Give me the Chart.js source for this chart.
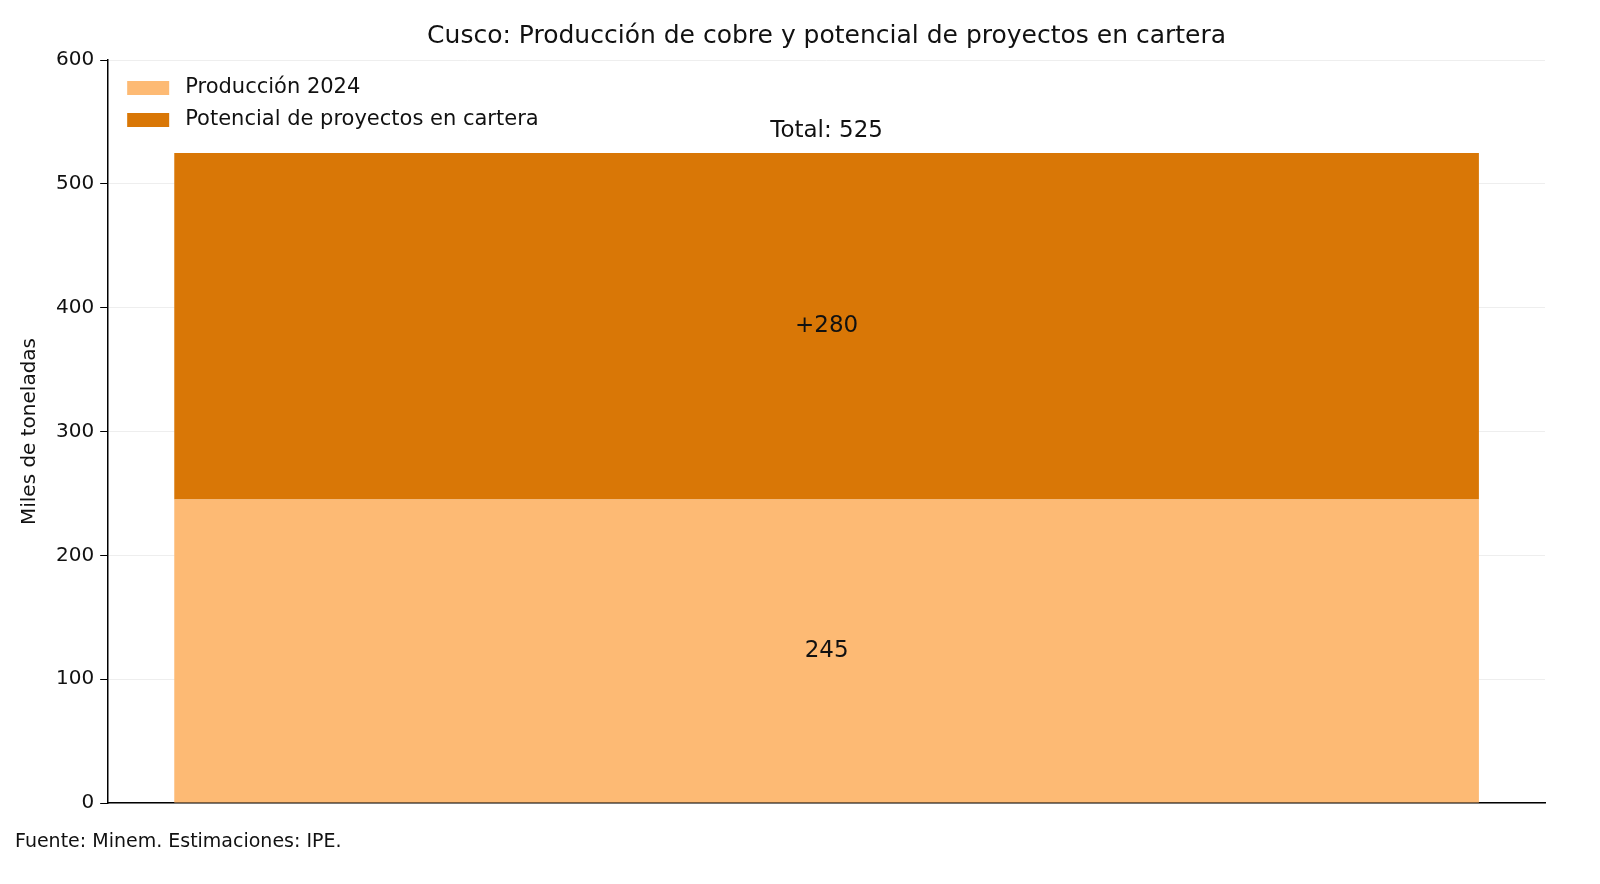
<!DOCTYPE html>
<html><head><meta charset="utf-8">
<script src="https://cdn.jsdelivr.net/npm/chart.js@4"></script>
<style>html,body{margin:0;padding:0;background:#fff}#w{width:1600px;height:884px;position:relative}</style>
</head><body><div id="w"><canvas id="c" width="1600" height="884"></canvas></div>
<script>
const categories = ["Cusco"];
const produccion = [245];
const potencial = [280];
const yTicks = [0,100,200,300,400,500,600];
const FONT = "'DejaVu Sans', sans-serif";

const labelsPlugin = {
  id: 'lbls',
  afterDatasetsDraw(chart) {
    const ctx = chart.ctx;
    const ca = chart.chartArea;
    ctx.save();
    ctx.fillStyle = '#111';
    ctx.textAlign = 'center'; ctx.textBaseline = 'middle';
    ctx.font = "25px " + FONT;
    ctx.fillText('Cusco: Producción de cobre y potencial de proyectos en cartera', (ca.left + ca.right) / 2, 36);
    ctx.font = "23px " + FONT;
    const y = chart.scales.y;
    const m0 = chart.getDatasetMeta(0).data[0], m1 = chart.getDatasetMeta(1).data[0];
    ctx.fillText(String(produccion[0]), m0.x, y.getPixelForValue(produccion[0]/2));
    ctx.fillText('+' + potencial[0], m1.x, y.getPixelForValue(produccion[0] + potencial[0]/2));
    const tot = produccion[0] + potencial[0];
    ctx.textBaseline = 'bottom';
    ctx.fillText('Total: ' + tot, m1.x, y.getPixelForValue(tot) - 10);
    ctx.font = "21px " + FONT; ctx.textAlign = 'left'; ctx.textBaseline = 'middle';
    chart.data.datasets.forEach((d, i) => {
      const ly = ca.top + 28 + i * 32;
      ctx.fillStyle = d.backgroundColor;
      ctx.fillRect(ca.left + 19, ly - 7, 42, 14);
      ctx.fillStyle = '#111';
      ctx.fillText(d.label, ca.left + 77, ly);
    });
    ctx.font = "19px " + FONT;
    ctx.fillText('Fuente: Minem. Estimaciones: IPE.', 15, 842);
    ctx.restore();
  }
};

new Chart(document.getElementById('c'), {
  type: 'bar',
  data: {
    labels: categories,
    datasets: [
      { label: 'Producción 2024', data: produccion, backgroundColor: '#fdba74' },
      { label: 'Potencial de proyectos en cartera', data: potencial, backgroundColor: '#d97706' }
    ]
  },
  options: {
    responsive: false, animation: false,
    layout: { padding: { left: 14, right: 55, top: 60, bottom: 73 } },
    datasets: { bar: { categoryPercentage: 1, barPercentage: 0.908 } },
    plugins: { legend: { display: false }, tooltip: { enabled: false }, title: { display: false } },
    scales: {
      x: { stacked: true, ticks: { display: false }, grid: { display: false },
           border: { color: '#000', width: 1.5 } },
      y: { stacked: true, min: 0, max: 600, afterBuildTicks: s => { s.ticks = yTicks.map(v => ({ value: v })); },
           ticks: { color: '#111', font: { family: FONT, size: 20 }, padding: 6 },
           grid: { color: '#eeeeee', tickLength: 8, tickColor: '#000' },
           border: { color: '#000', width: 1.5 },
           title: { display: true, text: 'Miles de toneladas', color: '#111', font: { family: FONT, size: 20 }, padding: { bottom: 8 } } }
    }
  },
  plugins: [labelsPlugin]
});
</script></body></html>
